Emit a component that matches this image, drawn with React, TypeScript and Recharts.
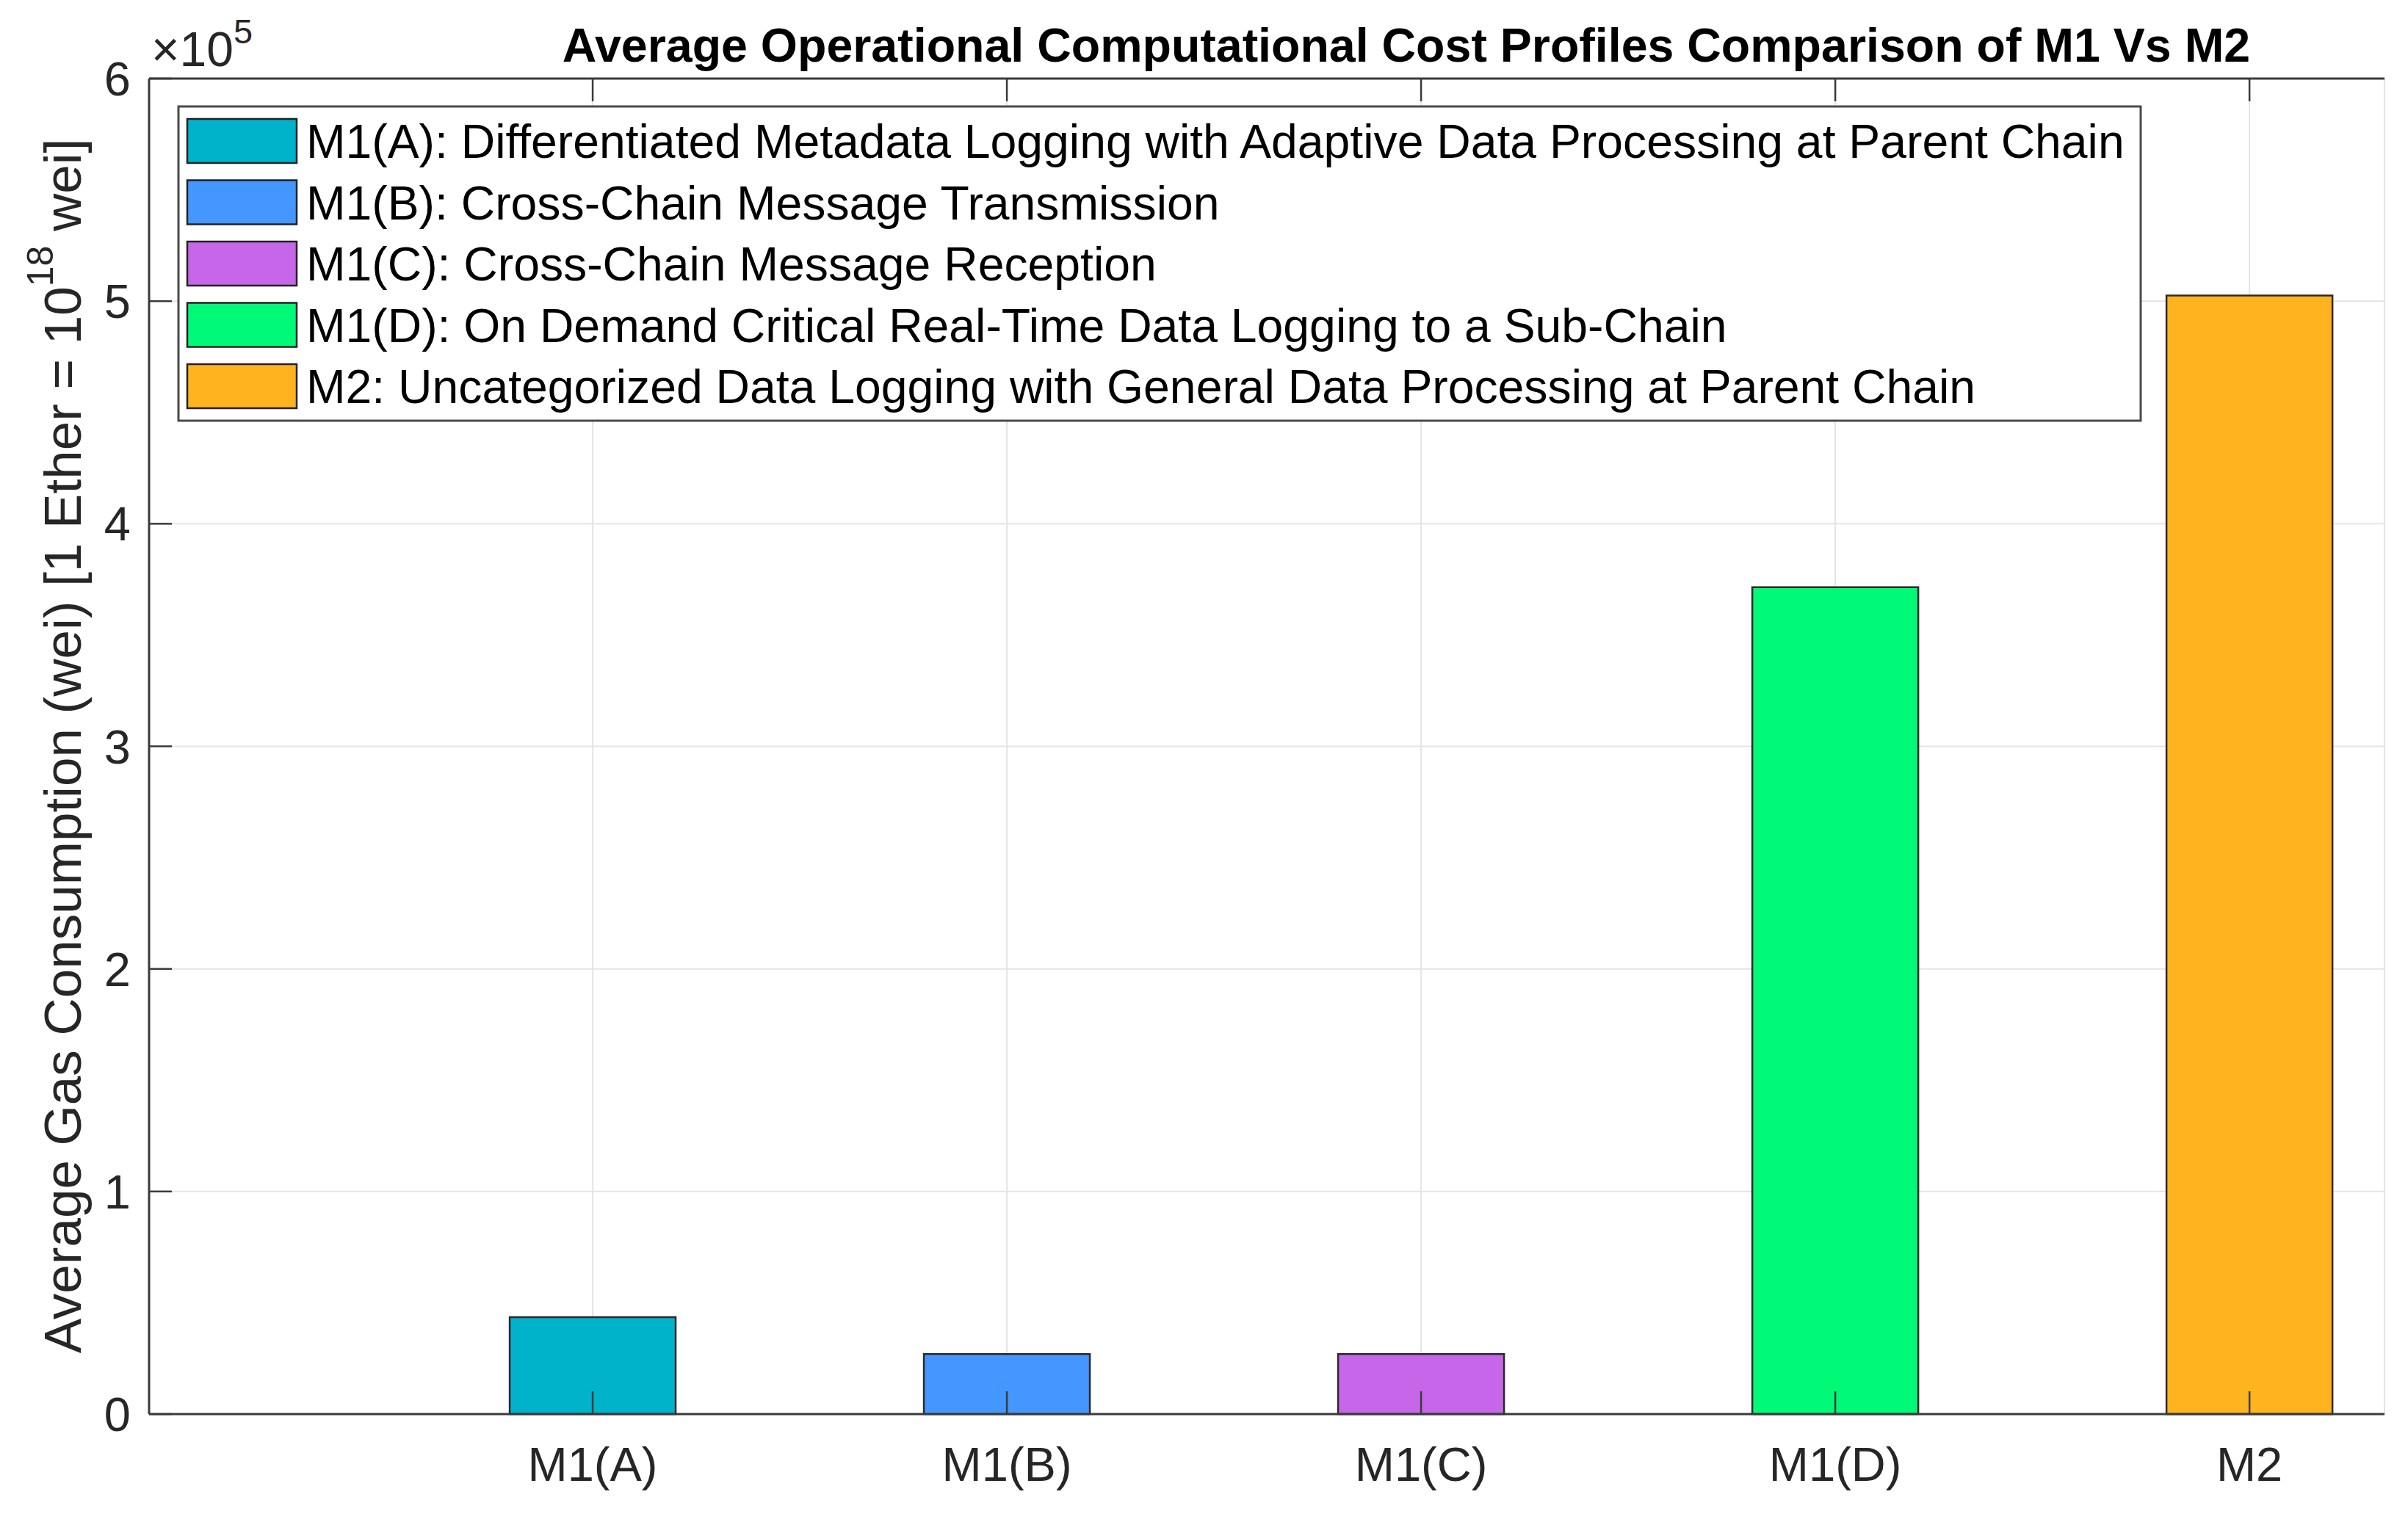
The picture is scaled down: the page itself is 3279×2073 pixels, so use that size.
import { Bar, BarChart, CartesianGrid, Cell, XAxis, YAxis } from "recharts"

const FONT = "'Liberation Sans', Arial, Helvetica, sans-serif"
const INK = "#262626"

// categories sit at x = 1..5 on a numeric axis (MATLAB-style bar positions)
const CATEGORIES = ["M1(A)", "M1(B)", "M1(C)", "M1(D)", "M2"]
const POSITIONS = [1, 2, 3, 4, 5]
const GAS_VALUES = [43500, 27000, 27000, 371500, 502500]
const BAR_COLORS = ["#00B2CA", "#4497FF", "#C766E8", "#00FA78", "#FFB31F"]
const LEGEND_LABELS = [
    "M1(A): Differentiated Metadata Logging with Adaptive Data Processing at Parent Chain",
    "M1(B): Cross-Chain Message Transmission",
    "M1(C): Cross-Chain Message Reception",
    "M1(D): On Demand Critical Real-Time Data Logging to a Sub-Chain",
    "M2: Uncategorized Data Logging with General Data Processing at Parent Chain",
]
const Y_TICKS = [0, 100000, 200000, 300000, 400000, 500000, 600000]
const X_DOMAIN = [-0.071, 5.326]

const data = POSITIONS.map((x, i) => ({ x, name: CATEGORIES[i], value: GAS_VALUES[i] }))

const TICK_STYLE = { fill: INK, fontSize: 65, fontFamily: FONT }

function Title() {
    return (
        <text
            x={1915}
            y={84}
            textAnchor="middle"
            fontFamily={FONT}
            fontSize={64.5}
            fontWeight="bold"
            fill="#000"
        >
            Average Operational Computational Cost Profiles Comparison of M1 Vs M2
        </text>
    )
}

function Exponent() {
    return (
        <text x={206} y={90} fontFamily={FONT} fontSize={66} fill={INK}>
            ×10
            <tspan dy={-31} fontSize={47}>5</tspan>
        </text>
    )
}

function YLabel() {
    return (
        <text
            transform="translate(110,1016) rotate(-90)"
            textAnchor="middle"
            fontFamily={FONT}
            fontSize={71}
            fill={INK}
        >
            Average Gas Consumption (wei) [1 Ether = 10
            <tspan dy={-38} fontSize={50}>18</tspan>
            <tspan dy={38}> wei]</tspan>
        </text>
    )
}

function LegendBox() {
    const left = 243
    const top = 145
    const pitch = 83.5
    return (
        <g>
            <rect x={left} y={top} width={2672} height={428} fill="#fff" stroke="#4a4a4a" strokeWidth={3} />
            {LEGEND_LABELS.map((label, i) => {
                const cy = 192 + i * pitch
                return (
                    <g key={label}>
                        <rect x={255} y={cy - 30} width={149} height={60} fill={BAR_COLORS[i]} stroke="#222" strokeWidth={2.5} />
                        <text x={417} y={cy + 23} fontFamily={FONT} fontSize={64.3} fill="#000">
                            {label}
                        </text>
                    </g>
                )
            })}
        </g>
    )
}

export default function App() {
    return (
        <div style={{ position: "absolute", left: 0, top: 0, width: 3279, height: 2073, background: "#fff" }}>
            <BarChart
                width={3279}
                height={2073}
                data={data}
                margin={{ top: 87, right: 32, bottom: 87, left: 143 }}
            >
                <CartesianGrid stroke="#e4e4e4" strokeWidth={2} />
                <XAxis
                    xAxisId={0}
                    dataKey="x"
                    type="number"
                    domain={X_DOMAIN}
                    allowDataOverflow
                    ticks={POSITIONS}
                    tickFormatter={(v: number) => CATEGORIES[Math.round(v) - 1] ?? ""}
                    height={60}
                    tickSize={-31}
                    tickMargin={76}
                    tick={TICK_STYLE}
                    axisLine={{ stroke: "#3a3a3a", strokeWidth: 3 }}
                    tickLine={{ stroke: "#3a3a3a", strokeWidth: 2.5 }}
                />
                <XAxis
                    xAxisId="top"
                    orientation="top"
                    dataKey="x"
                    type="number"
                    domain={X_DOMAIN}
                    allowDataOverflow
                    ticks={POSITIONS}
                    tickFormatter={() => ""}
                    height={20}
                    tickSize={-31}
                    axisLine={{ stroke: "#3a3a3a", strokeWidth: 3 }}
                    tickLine={{ stroke: "#3a3a3a", strokeWidth: 2.5 }}
                />
                <YAxis
                    domain={[0, 600000]}
                    ticks={Y_TICKS}
                    tickFormatter={(v: number) => String(v / 100000)}
                    width={60}
                    tickSize={-31}
                    tickMargin={56}
                    tick={TICK_STYLE}
                    axisLine={{ stroke: "#3a3a3a", strokeWidth: 3 }}
                    tickLine={{ stroke: "#3a3a3a", strokeWidth: 2.5 }}
                />
                <Bar
                    dataKey="value"
                    xAxisId={0}
                    barSize={226}
                    stroke="#2a2a2a"
                    strokeWidth={2.5}
                    isAnimationActive={false}
                >
                    {data.map((d, i) => (
                        <Cell key={d.name} fill={BAR_COLORS[i]} />
                    ))}
                </Bar>
                <Title />
                <Exponent />
                <YLabel />
                <LegendBox />
            </BarChart>
        </div>
    )
}
